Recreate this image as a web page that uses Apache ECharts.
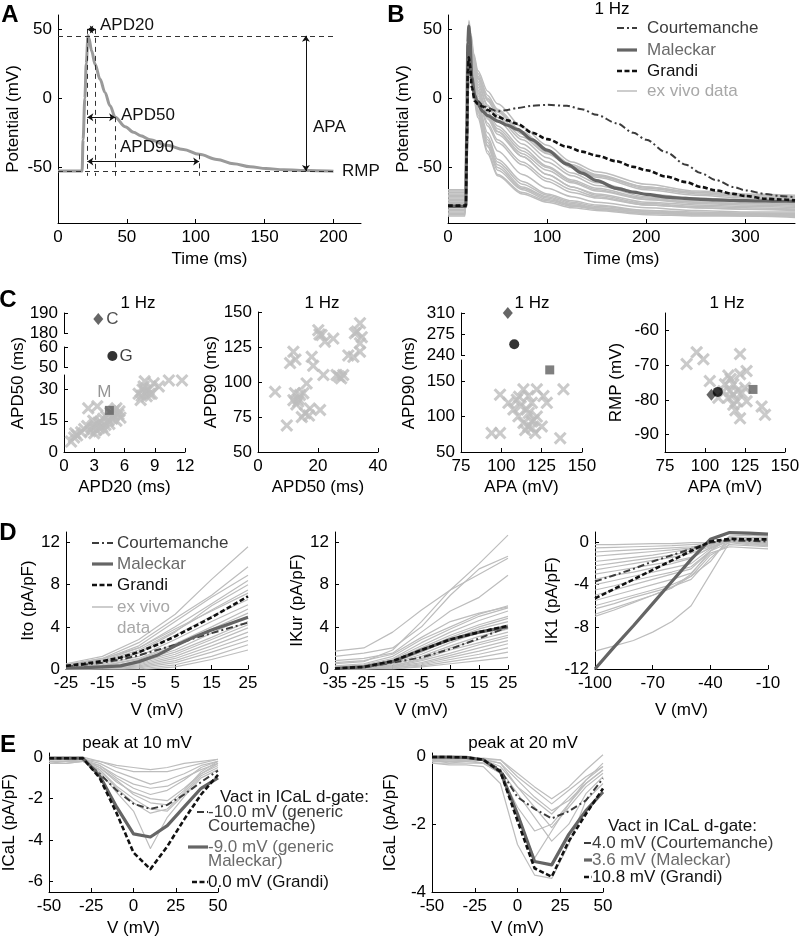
<!DOCTYPE html>
<html><head><meta charset="utf-8">
<script src="https://cdn.jsdelivr.net/npm/echarts@6/dist/echarts.min.js"></script>
<style>html,body{margin:0;padding:0;background:#fff}#c{width:799px;height:944px}</style>
</head><body><div id="c"></div>
<script>
// ---------------- DATA ----------------
// Panel A: schematic action potential
const apTime = [0,17.5,18.2,19.5,20.5,21.8,22.5,24.4,26.9,30.5,34.1,37.8,41.5,48.7,54.8,60,66.9,79,91.1,102.5,115.4,127.5,139.6,151,163.9,176,188,200];
const apVoltage = [-52.5,-52.5,-30,0,25,45.2,43,34.2,24.6,13.8,4.2,-5.4,-13.7,-20.5,-24.5,-27,-30,-34,-37,-40.5,-44.2,-47.3,-49.4,-50.7,-51.6,-52.1,-52.3,-52.6];
const apPeak = 45, apRmp = -52.5;
const apdStart = 21.3, apd20End = 27.4, apd50End = 41.5, apd90End = 102.5;
const apd20Level = 49.5, apd50Level = -13.7, apd90Level = -45.6, apd90Top = -40.5;
const apaTime = 180;

// Panel B: 1 Hz action potentials
const modelNames = ['Courtemanche','Maleckar','Grandi','ex vivo data'];
const tModelB = [0,18,19,20,21,22,24,27,30,35,40,50,60,70,85,100,120,135,150,170,187,200,220,240,255,270,288,300,320,335,350];
const courtB = [-77.5,-77.5,-40,0,20,24,12,1,-2,-5,-7,-9.5,-8.5,-7,-5.5,-4.8,-5.5,-8,-12,-18,-25,-30,-39,-48,-54,-59,-64,-66.5,-69,-70.5,-71.5];
const malB = [-78,-78,-20,40,52,45,15,2,-4,-9.5,-12.5,-16.5,-19.5,-22.5,-30,-37.5,-47.5,-54,-59.5,-65,-67.7,-69.3,-71.3,-72.3,-73,-73.3,-73.7,-73.9,-74.1,-74.3,-74.4];
const grandiB = [-77.5,-77.5,-30,20,29.5,25,8,-2,-4,-6,-8.5,-13.5,-16,-18.5,-25,-29.5,-35,-38.5,-41.5,-45.5,-49.5,-52,-56.5,-60.5,-64,-66.5,-69,-70.5,-72.5,-73,-73.7];
const tExVivoB = [0,17,19,21,23,26,30,40,50,75,100,125,150,200,250,300,350];
const exVivoB = [
 [-66,-66,-10,56,47,32,20,5,-4,-21,-34,-46,-53,-62,-67,-69,-70],
 [-68,-68,-18,50,42,28,16,0,-9,-25,-38,-49,-56,-65,-69,-71,-72],
 [-70,-70,-24,45,38,24,12,-5,-14,-30,-43,-54,-61,-69,-72,-74,-74],
 [-72,-72,-30,52,40,22,8,-10,-20,-36,-49,-59,-65,-72,-75,-76,-77],
 [-74,-74,-35,40,32,18,4,-15,-26,-42,-55,-64,-69,-75,-77,-78,-79],
 [-75,-75,-38,48,36,16,0,-20,-32,-48,-60,-68,-72,-77,-79,-80,-80],
 [-76,-76,-35,35,25,12,-3,-25,-38,-55,-65,-71,-75,-79,-81,-82,-82],
 [-78,-78,-45,42,28,10,-5,-28,-44,-60,-69,-74,-77,-81,-82,-83,-83],
 [-80,-80,-50,30,20,6,-8,-32,-48,-64,-71,-76,-79,-82,-83,-84,-84],
 [-82,-82,-55,38,22,4,-10,-35,-52,-66,-73,-77,-80,-83,-84,-84,-85],
 [-84,-84,-58,32,16,2,-12,-38,-55,-68,-74,-78,-80,-83,-84,-85,-85],
 [-73,-73,-28,55,45,30,18,2,-8,-24,-37,-48,-55,-64,-68,-70,-71],
 [-77,-77,-40,45,35,20,6,-12,-22,-38,-50,-60,-66,-73,-76,-77,-78],
 [-79,-79,-48,50,36,18,2,-18,-30,-46,-58,-66,-71,-77,-79,-80,-81],
 [-71,-71,-28,38,30,16,4,-14,-24,-40,-52,-61,-67,-73,-75,-76,-77],
 [-85,-85,-60,28,14,0,-14,-40,-56,-69,-75,-79,-81,-84,-85,-85,-86],
 [-67,-67,-16,47,40,26,14,-2,-12,-28,-40,-50,-56,-64,-68,-70,-71],
 [-76,-76,-38,44,34,20,6,-12,-24,-42,-55,-64,-70,-76,-78,-79,-80],
 [-81,-81,-52,36,24,8,-6,-30,-46,-62,-70,-75,-78,-81,-83,-83,-84],
 [-74,-74,-32,50,40,24,10,-6,-16,-33,-46,-56,-63,-71,-74,-75,-76],
 [-69,-69,-22,53,44,28,15,-1,-10,-26,-39,-50,-57,-66,-70,-72,-73],
 [-83,-83,-56,34,20,5,-9,-34,-50,-65,-72,-77,-79,-82,-84,-84,-85]
];

// Panel C: biomarkers (order of models: Courtemanche, Maleckar, Grandi)
const modelAPD20 = [3.4, 4.5, 4.8];
const modelAPD50 = [187, 20, 55.5];
const modelAPA = [104, 130, 108];
const modelAPD90 = [310, 166, 258];
const modelRMP = [-78.5, -77, -77.7];
const c1APD20 = [0.7,1.0,1.3,1.1,1.7,2.0,2.3,2.4,2.6,2.8,3.0,3.0,3.2,3.4,3.5,3.6,3.8,3.9,4.0,4.1,4.2,4.4,4.5,4.6,4.8,4.9,5.0,5.2,5.2,5.4,5.5,5.6,3.3,2.9,7.4,7.6,7.8,7.9,8.0,8.2,8.4,8.5,8.7,8.9,9.4,10.4,11.7,8.1,7.7];
const c1APD50 = [5,7,8,9,9.5,11,12.5,21,10,12,9,13,10.6,14,11.5,14.6,12,16,10.5,13,17,15,13.5,19,16,17.7,20,15,21,18,19.6,16.5,22,15,28,25,30,31.5,34,26.8,30,28,28,33,31.5,34.4,34.4,29,27];
const c2APD50 = [5.7,9.6,11.8,10.7,12.3,11.8,13.4,15.1,16.2,17.9,18.4,15.7,17.3,20.7,20.1,21.2,21.8,22.3,25.1,26.2,28.4,27.7,30.1,32.3,34,34,34,31.8,34.6,14.6,14,12.8,13.5,17,12.5,27,33,20.5];
const c2APD90 = [93,69,121.6,113.5,92,87,86,92,99,118,111.6,77.6,81,80,137,133.6,105,128.8,131,105,105,102.6,119,134.8,142,127.6,121.6,118,132,75,90.7,84,88,76,116,104,136,134];
const c3APA = [94,99.2,99.2,104.4,107.5,109.6,110.6,113.7,115.8,116.8,116.8,118.9,121,122,125.1,126.1,128.2,136.5,138.5,113.7,118.9,122,114.8,112,117,120,119,111];
const c3APD90 = [76.7,76.7,131,119.5,110,124,100.4,138.6,110,129,86,93,76.7,100,86,129,119.5,69.5,138.6,91,119.5,138.6,81,115,105,95,84,128];
const c4APA = [88.5,94.8,99,103,108.3,114.6,117.7,115.6,121.9,121.9,126,125,114.6,117.7,121.9,120,126,135.4,137.5,111.4,112.5,117.7,120,116,119,123];
const c4RMP = [-69.7,-66.3,-68.3,-74.6,-79.4,-73,-75.5,-77.5,-72.6,-66.8,-71.7,-76.5,-79.4,-81.4,-85.3,-80.4,-80.4,-81.9,-84.3,-77.5,-75.5,-78.5,-77.5,-74,-83,-78];

// Panel D: I-V curves
const vItoModel = [-25,-20,-15,-10,-5,0,5,10,15,20,25];
const itoCourt = [0.2,0.4,0.6,0.9,1.3,1.8,2.3,2.9,3.4,3.9,4.4];
const itoMal = [0.1,0.13,0.2,0.3,0.7,1.3,2.2,3.0,3.7,4.3,4.9];
const itoGrandi = [0.3,0.5,0.75,1.1,1.6,2.3,3.1,4.0,4.9,5.9,6.9];
const vItoExp = [-25,-15,-5,5,15,25];
const itoExVivo = [
 [0.5,1.2,2.8,5.2,8.5,11.6],[0.4,1.0,2.5,4.8,7.0,9.7],[0.3,0.9,2.2,4.5,6.8,8.9],[0.3,0.8,2.0,4.0,6.2,8.4],
 [0.2,0.7,1.8,3.6,5.6,7.5],[0.4,1.0,2.0,3.8,5.5,7.2],[0.2,0.5,1.5,3.2,5.0,6.6],[0.1,0.4,1.2,2.8,4.5,6.1],
 [0.1,0.3,1.0,2.4,4.0,5.7],[0.1,0.3,0.9,2.2,3.8,5.3],[0.0,0.2,0.7,1.8,3.4,5.0],[0.0,0.2,0.6,1.6,3.0,4.5],
 [0.0,0.1,0.5,1.4,2.8,4.2],[0.0,0.1,0.4,1.2,2.5,3.9],[0.0,0.0,0.3,1.0,2.2,3.5],[0.0,0.0,0.2,0.8,1.9,3.1],
 [0.0,-0.1,0.1,0.6,1.6,2.7],[0.0,-0.1,0.0,0.4,1.2,2.3],[0.0,-0.2,-0.1,0.2,0.9,1.8],[0.1,0.6,1.6,3.5,6.0,8.0]
];
const vKur = [-35,-25,-15,-5,5,15,25];
const kurCourt = [0.05,0.15,0.6,1.1,1.9,2.9,4.0];
const kurMal = [0.05,0.2,0.7,1.8,2.8,3.5,4.0];
const kurGrandi = [0.05,0.2,0.75,1.8,2.8,3.5,4.1];
const kurExVivo = [
 [1.7,2.0,3.5,5.6,7.5,10.0,12.7],[1.2,1.5,2.0,4.0,7.0,9.5,10.7],[0.5,0.7,1.8,4.5,7.5,9.0,10.5],[0.8,1.0,1.5,3.5,5.5,6.8,8.9],
 [0.3,0.5,1.2,2.8,4.0,5.2,6.0],[0.2,0.4,1.0,2.5,3.8,5.0,5.8],[0.2,0.3,0.9,2.2,3.5,4.6,5.5],[0.1,0.3,0.8,2.0,3.2,4.2,5.0],
 [0.1,0.2,0.7,1.8,3.0,4.0,4.8],[0.1,0.2,0.6,1.6,2.8,3.8,4.5],[0.0,0.2,0.5,1.4,2.5,3.5,4.2],[0.0,0.1,0.4,1.2,2.2,3.1,3.8],
 [0.0,0.1,0.3,1.0,2.0,2.8,3.5],[0.0,0.1,0.3,0.9,1.8,2.5,3.2],[0.0,0.0,0.2,0.8,1.5,2.3,3.0],[0.0,0.0,0.2,0.6,1.3,2.0,2.7],
 [0.0,0.0,0.1,0.5,1.1,1.7,2.4],[0.0,0.0,0.1,0.4,0.9,1.4,2.0],[0.0,0.0,0.0,0.3,0.7,1.1,1.6],[0.0,0.0,0.0,0.2,0.5,0.8,1.1],
 [0.6,0.8,1.4,3.0,4.5,5.3,5.9]
];
const vK1 = [-100,-90,-80,-70,-60,-50,-40,-30,-20,-10];
const k1Court = [-3.7,-3.1,-2.5,-1.8,-1.2,-0.6,0.0,0.2,0.15,0.1];
const k1Mal = [-12,-9.9,-7.9,-5.8,-3.7,-1.6,0.3,0.95,0.9,0.8];
const k1Grandi = [-5.3,-4.4,-3.5,-2.6,-1.7,-0.8,0.1,0.35,0.3,0.3];
const k1ExVivo = [
 [-0.2,-0.2,-0.15,-0.1,-0.1,0,0,0.3,0.2,0.1],[-0.5,-0.45,-0.4,-0.35,-0.3,-0.2,-0.1,0.2,0.1,0],
 [-0.9,-0.8,-0.7,-0.6,-0.5,-0.4,-0.2,0.3,0.2,0.1],[-1.3,-1.15,-1.0,-0.85,-0.7,-0.5,-0.2,0.4,0.3,0.2],
 [-1.8,-1.6,-1.4,-1.2,-0.9,-0.6,-0.3,0.3,0.2,0.1],[-2.2,-1.95,-1.7,-1.45,-1.2,-0.8,-0.3,0.5,0.4,0.3],
 [-2.6,-2.3,-2.0,-1.7,-1.4,-1.0,-0.4,0.2,0.0,-0.2],[-3.0,-2.7,-2.4,-2.1,-1.8,-1.4,-0.5,0.1,-0.1,-0.3],
 [-3.5,-3.1,-2.8,-2.4,-2.0,-1.5,-0.5,0.3,0.2,0.1],[-4.0,-3.6,-3.2,-2.8,-2.4,-2.0,-0.6,0.2,0.1,0],
 [-4.5,-4.1,-3.6,-3.2,-2.8,-2.3,-0.8,0,-0.2,-0.3],[-5.0,-4.5,-4.0,-3.5,-3.0,-2.5,-0.8,0.4,0.5,0.5],
 [-5.5,-5.0,-4.5,-4.0,-3.5,-2.9,-1.0,-0.4,-0.5,-0.6],[-6.0,-5.5,-5.0,-4.5,-4.0,-3.2,-1.2,-0.2,-0.3,-0.4],
 [-6.3,-5.8,-5.2,-4.7,-4.2,-3.5,-1.5,0.1,0.0,-0.1],[-6.8,-6.2,-5.6,-5.0,-4.3,-3.2,-1.8,0.5,0.5,0.4],
 [-7.0,-6.4,-5.7,-5.0,-4.3,-3.0,-0.8,0.6,0.7,0.6],[-10.3,-9.8,-9.3,-8.5,-7.5,-6.0,-3.0,0,0.2,0.2]
];

// Panel E: ICaL I-V curves
const vCaL = [-50,-40,-30,-20,-10,0,10,20,30,40,50];
const calCourt1 = [-0.05,-0.05,-0.1,-0.8,-1.6,-2.25,-2.5,-2.3,-1.8,-1.2,-0.65];
const calMal1 = [-0.05,-0.05,-0.05,-0.9,-2.4,-3.7,-3.85,-3.3,-2.4,-1.5,-1.0];
const calGrandi1 = [-0.05,-0.05,-0.05,-1.0,-2.7,-4.6,-5.4,-4.3,-3.0,-1.8,-0.85];
const calExVivo1 = [
 [-0.1,-0.1,-0.1,-0.2,-0.5,-0.7,-0.7,-0.7,-0.5,-0.3,-0.1],[-0.2,-0.2,-0.1,-0.3,-0.7,-1.0,-1.3,-1.1,-0.8,-0.4,-0.2],
 [-0.2,-0.2,-0.2,-0.4,-0.9,-1.3,-1.5,-1.4,-1.0,-0.6,-0.3],[-0.3,-0.2,-0.1,-0.4,-1.0,-1.5,-1.8,-1.6,-1.1,-0.5,-0.2],
 [-0.2,-0.2,-0.1,-0.5,-1.2,-1.7,-2.0,-2.1,-1.5,-0.8,-0.4],[-0.3,-0.3,-0.2,-0.6,-1.4,-2.0,-2.5,-2.6,-1.8,-0.9,-0.5],
 [-0.2,-0.2,-0.2,-0.6,-1.5,-2.2,-2.7,-2.5,-1.7,-0.8,-0.3],[-0.1,-0.1,-0.1,-0.7,-1.7,-2.6,-4.4,-2.9,-1.9,-1.0,-0.6],
 [-0.3,-0.3,-0.2,-0.5,-1.1,-1.8,-2.2,-2.3,-1.6,-0.7,-0.2],[-0.1,-0.1,0,-0.2,-0.4,-0.5,-0.6,-0.5,-0.3,-0.2,-0.1]
];
const calCourt2 = [-0.02,-0.02,-0.03,-0.1,-0.4,-1.2,-1.55,-1.83,-1.62,-1.3,-0.65];
const calMal2 = [-0.02,-0.02,-0.03,-0.1,-0.45,-1.7,-3.1,-3.2,-2.3,-1.6,-1.05];
const calGrandi2 = [-0.02,-0.02,-0.03,-0.1,-0.45,-1.9,-3.3,-3.55,-2.5,-1.7,-0.95];
const calExVivo2 = [
 [-0.05,-0.05,-0.05,-0.1,-0.1,-0.5,-0.9,-1.25,-0.9,-0.4,0.05],[-0.1,-0.1,-0.1,-0.05,-0.1,-0.6,-1.0,-1.4,-1.0,-0.6,-0.3],
 [-0.15,-0.15,-0.1,-0.1,-0.2,-0.7,-1.2,-1.6,-1.3,-0.8,-0.4],[-0.1,-0.2,-0.15,-0.1,-0.3,-0.9,-1.5,-2.1,-1.5,-0.9,-0.5],
 [-0.2,-0.2,-0.2,-0.2,-0.4,-1.1,-1.8,-2.5,-2.0,-1.1,-0.6],[-0.1,-0.15,-0.15,-0.2,-0.5,-1.8,-3.0,-2.2,-1.4,-0.8,-0.4],
 [-0.2,-0.25,-0.25,-0.3,-0.8,-2.6,-3.5,-3.6,-2.6,-1.3,-0.8],[-0.1,-0.1,-0.1,-0.2,-0.5,-1.5,-2.2,-2.0,-1.4,-0.7,-0.3],
 [-0.1,-0.1,-0.1,-0.1,-0.2,-0.9,-1.3,-1.7,-1.2,-0.7,-0.2]
];
const vactLegend1 = [['-10.0 mV (generic','Courtemache)'],['-9.0 mV (generic','Maleckar)'],['0.0 mV (Grandi)']];
const vactLegend2 = [['4.0 mV (Courtemanche)'],['3.6 mV (Maleckar)'],['10.8 mV (Grandi)']];

// ---------------- STYLE / LAYOUT ----------------
const FONT = '"Liberation Sans", Arial, Helvetica, sans-serif';
const FS = 17;
const GRAY = '#bdbdbd', COURT = '#3c3c3c', MAL = '#656565', GRANDI = '#111111';
const DASH_COURT = [7,3,2,3], DASH_GRANDI = [5,2.5];
const modelStyle = [
  {color: COURT, width: 2, type: DASH_COURT, text: '#3c3c3c'},
  {color: MAL, width: 3.2, type: 'solid', text: '#6a6a6a'},
  {color: GRANDI, width: 2.6, type: DASH_GRANDI, text: '#111111'},
  {color: GRAY, width: 1.5, type: 'solid', text: '#a8a8a8'}
];

const grids = [
 {left:58, top:15, width:303, height:208},
 {left:448, top:15, width:347, height:208},
 {left:64, top:375, width:121, height:77},
 {left:64, top:347, width:121, height:20},
 {left:64, top:313, width:121, height:20},
 {left:258, top:312, width:120, height:140},
 {left:461, top:360, width:121, height:92},
 {left:461, top:313, width:121, height:42},
 {left:665, top:313, width:120, height:139},
 {left:66, top:532, width:182, height:137},
 {left:335, top:532, width:173, height:137},
 {left:595, top:532, width:173, height:137},
 {left:49, top:753, width:169, height:139},
 {left:432, top:753, width:171, height:139}
].map(g => Object.assign({containLabel:false, outerBoundsMode:'none', show:false}, g));

function axis(gi, min, max, ticks, extra) {
  return Object.assign({
    type:'value', gridIndex:gi, min, max,
    axisLine:{show:true, onZero:false, lineStyle:{color:'#000', width:1}},
    axisTick:{show:true, inside:true, length:4, customValues:ticks, lineStyle:{color:'#000', width:1}},
    axisLabel:{show:true, customValues:ticks, color:'#000', fontSize:FS, fontFamily:FONT, margin:6, hideOverlap:false},
    splitLine:{show:false},
    minorTick:{show:false},
    nameLocation:'middle',
    nameTextStyle:{color:'#000', fontSize:FS, fontFamily:FONT}
  }, extra || {});
}
const xAxes = [
 axis(0, 0, 220, [0,50,100,150,200], {name:'Time (ms)', nameGap:28}),
 axis(1, 0, 350, [0,100,200,300], {name:'Time (ms)', nameGap:28}),
 axis(2, 0, 12, [0,3,6,9,12], {name:'APD20 (ms)', nameGap:27}),
 axis(3, 0, 12, [], {show:false}),
 axis(4, 0, 12, [], {show:false}),
 axis(5, 0, 40, [0,20,40], {name:'APD50 (ms)', nameGap:27}),
 axis(6, 75, 150, [75,100,125,150], {name:'APA (mV)', nameGap:27}),
 axis(7, 75, 150, [], {show:false}),
 axis(8, 75, 150, [75,100,125,150], {name:'APA (mV)', nameGap:27}),
 axis(9, -25, 25, [-25,-15,-5,5,15,25], {name:'V (mV)', nameGap:33}),
 axis(10, -35, 25, [-35,-25,-15,-5,5,15,25], {name:'V (mV)', nameGap:33}),
 axis(11, -100, -10, [-100,-70,-40,-10], {name:'V (mV)', nameGap:33}),
 axis(12, -50, 50, [-50,-25,0,25,50], {name:'V (mV)', nameGap:28}),
 axis(13, -50, 50, [-50,-25,0,25,50], {name:'V (mV)', nameGap:28})
];
const yAxes = [
 axis(0, -90, 60, [-50,0,50], {name:'Potential (mV)', nameGap:36}),
 axis(1, -90, 60, [-50,0,50], {name:'Potential (mV)', nameGap:36}),
 axis(2, 0, 37, [0,15,30]),
 axis(3, 50, 60, [50,60]),
 axis(4, 180, 190, [180,190]),
 axis(5, 50, 150, [50,75,100,125,150], {name:'APD90 (ms)', nameGap:36}),
 axis(6, 50, 180, [50,100,150]),
 axis(7, 240, 310, [240,275,310]),
 axis(8, -95, -55, [-90,-80,-70,-60], {name:'RMP (mV)', nameGap:40}),
 axis(9, 0, 13, [0,4,8,12], {name:'Ito (pA/pF)', nameGap:22}),
 axis(10, 0, 13, [0,4,8,12], {name:'IKur (pA/pF)', nameGap:25}),
 axis(11, -12, 1, [-12,-8,-4,0], {name:'IK1 (pA/pF)', nameGap:25}),
 axis(12, -6.5, 0.2, [-6,-4,-2,0], {name:'ICaL (pA/pF)', nameGap:31}),
 axis(13, -4, 0.1, [-4,-2,0], {name:'ICaL (pA/pF)', nameGap:33})
];

const series = [];
function addLine(gi, xs, ys, st, z, smooth) {
  const s = {type:'line', xAxisIndex:gi, yAxisIndex:gi, data: xs.map((x,i)=>[x, ys[i]]),
    symbol:'none', showSymbol:false, silent:true, animation:false, z: z || 2, clip:true,
    lineStyle:{color:st.color, width:st.width, type:st.type, cap:'butt', join:'round'}};
  if (smooth) { s.smooth = smooth; s.smoothMonotone = 'x'; }
  series.push(s);
}
function addModels(gi, xs, arrs, smooth) {
  arrs.forEach((ys, k) => addLine(gi, xs, ys, modelStyle[k], 3 + k, smooth));
}
const exStyle = {color:GRAY, width:1.5, type:'solid'};
const exStyleThin = {color:GRAY, width:1.2, type:'solid'};

// Panel A
series.push({
  type:'line', xAxisIndex:0, yAxisIndex:0, data: apTime.map((t,i)=>[t, apVoltage[i]]),
  symbol:'none', showSymbol:false, silent:true, animation:false, z:2,
  smooth:0.35, smoothMonotone:'x',
  lineStyle:{color:'#9a9a9a', width:3},
  markLine:{
    silent:true, animation:false, symbol:'none', label:{show:false},
    lineStyle:{color:'#333', width:1, type:[5,4]},
    data:[
      [{coord:[0,apPeak]},{coord:[200,apPeak]}],
      [{coord:[0,apRmp]},{coord:[200,apRmp]}],
      [{coord:[apdStart,50]},{coord:[apdStart,apRmp-3.5]}],
      [{coord:[apd20End,50]},{coord:[apd20End,apRmp-3.5]}],
      [{coord:[apd50End,apd50Level]},{coord:[apd50End,apRmp-3.5]}],
      [{coord:[apd90End,apd90Top]},{coord:[apd90End,apRmp-3.5]}],
      [{coord:[apdStart,apd20Level],symbol:'arrow',symbolSize:6,lineStyle:{type:'solid',color:'#111'}},{coord:[apd20End,apd20Level],symbol:'arrow',symbolSize:6}],
      [{coord:[apdStart,apd50Level],symbol:'arrow',symbolSize:6,lineStyle:{type:'solid',color:'#111'}},{coord:[apd50End,apd50Level],symbol:'arrow',symbolSize:6}],
      [{coord:[apdStart,apd90Level],symbol:'arrow',symbolSize:6,lineStyle:{type:'solid',color:'#111'}},{coord:[apd90End,apd90Level],symbol:'arrow',symbolSize:6}],
      [{coord:[apaTime,apPeak],symbol:'arrow',symbolSize:6,lineStyle:{type:'solid',color:'#111'}},{coord:[apaTime,apRmp],symbol:'arrow',symbolSize:6}]
    ]
  }
});

// Panel B
exVivoB.forEach(tr => addLine(1, tExVivoB, tr, exStyle, 1, 0.3));
addModels(1, tModelB, [courtB, malB, grandiB], 0.3);

// Panel C
const CROSS = 'path://M0,2L2,0L6,4L10,0L12,2L8,6L12,10L10,12L6,8L2,12L0,10L4,6Z';
const markerSym = ['diamond','rect','circle'];
const markerSize = [[10,12], 9, 10];
const markerColor = ['#404040','#5f5f5f','#000000'];
function addCrosses(gi, xs, ys) {
  series.push({type:'scatter', xAxisIndex:gi, yAxisIndex:gi, data: xs.map((x,i)=>[x, ys[i]]),
    symbol:CROSS, symbolSize:13, itemStyle:{color:GRAY}, silent:true, animation:false, z:2});
}
function addMarker(segs, k, x, y, label) {
  const seg = segs.find(s => y >= s.min && y <= s.max);
  if (!seg) return;
  const s = {type:'scatter', xAxisIndex:seg.gi, yAxisIndex:seg.gi, data:[[x,y]],
    symbol:markerSym[k], symbolSize:markerSize[k], itemStyle:{color:markerColor[k]},
    silent:true, animation:false, z:5};
  if (label) s.label = Object.assign({show:true, formatter:modelNames[k][0], fontSize:FS, fontFamily:FONT}, label);
  series.push(s);
}
addCrosses(2, c1APD20, c1APD50);
const c1Segs = [{gi:2,min:0,max:37},{gi:3,min:50,max:60},{gi:4,min:180,max:190}];
const c1Labels = [{position:'right', distance:3, color:'#222'}, {position:'top', distance:5, offset:[-5,0], color:'#7a7a7a'}, {position:'right', distance:2, color:'#111'}];
[0,1,2].forEach(k => addMarker(c1Segs, k, modelAPD20[k], modelAPD50[k], c1Labels[k]));
addCrosses(5, c2APD50, c2APD90);
addCrosses(6, c3APA, c3APD90);
const c3Segs = [{gi:6,min:50,max:180},{gi:7,min:240,max:310}];
[0,1,2].forEach(k => addMarker(c3Segs, k, modelAPA[k], modelAPD90[k]));
addCrosses(8, c4APA, c4RMP);
[0,1,2].forEach(k => addMarker([{gi:8,min:-95,max:-55}], k, modelAPA[k], modelRMP[k]));

// Panel D
itoExVivo.forEach(tr => addLine(9, vItoExp, tr, exStyleThin, 1));
addModels(9, vItoModel, [itoCourt, itoMal, itoGrandi]);
kurExVivo.forEach(tr => addLine(10, vKur, tr, exStyleThin, 1));
addModels(10, vKur, [kurCourt, kurMal, kurGrandi]);
k1ExVivo.forEach(tr => addLine(11, vK1, tr, exStyleThin, 1));
addModels(11, vK1, [k1Court, k1Mal, k1Grandi]);

// Panel E
calExVivo1.forEach(tr => addLine(12, vCaL, tr, exStyleThin, 1));
addModels(12, vCaL, [calCourt1, calMal1, calGrandi1]);
calExVivo2.forEach(tr => addLine(13, vCaL, tr, exStyleThin, 1));
addModels(13, vCaL, [calCourt2, calMal2, calGrandi2]);

// ---------------- GRAPHIC TEXT / LEGENDS ----------------
const graphics = [];
function txt(x, y, s, o) {
  o = o || {};
  const align = o.align || 'left';
  graphics.push({type:'text', x, y, rotation:o.rotation || 0, z:50, silent:true,
    style:{text:s, fill:o.color || '#000', font:(o.weight ? o.weight + ' ' : '') + (o.size || FS) + 'px ' + FONT,
      textAlign:align, align:align, textVerticalAlign:'middle', verticalAlign:'middle'}});
}
function seg(x1, y, x2, st) {
  graphics.push({type:'line', z:50, silent:true, shape:{x1, y1:y, x2, y2:y},
    style:{stroke:st.color, lineWidth:st.width, lineDash: Array.isArray(st.type) ? st.type : null}});
}
// panel letters
[['A',10,15],['B',396,15],['C',8,300],['D',8,533],['E',8,745]].forEach(p => txt(p[1], p[2], p[0], {weight:'bold', size:24, align:'center'}));
// titles
[[612,9],[138,303],[322,303],[532,303],[727,303]].forEach(p => txt(p[0], p[1], '1 Hz', {align:'center'}));
txt(137, 743, 'peak at 10 mV', {align:'center'});
txt(523, 743, 'peak at 20 mV', {align:'center'});
// broken-axis y titles
txt(18, 383, 'APD50 (ms)', {align:'center', rotation:Math.PI/2});
txt(409, 383, 'APD90 (ms)', {align:'center', rotation:Math.PI/2});
// panel A annotations
txt(100, 25, 'APD20', {color:'#111'});
txt(121, 115, 'APD50', {color:'#111'});
txt(120, 147, 'APD90', {color:'#111'});
txt(313, 127, 'APA', {color:'#111'});
txt(342, 171, 'RMP', {color:'#111'});
// legend B
[28,50,71,91].forEach((y,k) => { seg(617, y, 637, modelStyle[k]); txt(647, y, modelNames[k], {color:modelStyle[k].text}); });
// legend D
[543,564,585,607].forEach((y,k) => {
  seg(92, y, 113, modelStyle[k]);
  const nm = k === 3 ? 'ex vivo' : modelNames[k];
  txt(117, y, nm, {color:modelStyle[k].text});
});
txt(117, 628, 'data', {color:modelStyle[3].text});
// legend E1
txt(220, 797, 'Vact in ICaL d-gate:', {color:'#111'});
[[812,197],[847,188],[882,192]].forEach((p,k) => {
  seg(p[1], p[0], 208, modelStyle[k]);
  vactLegend1[k].forEach((line,j) => txt(208, p[0] + j*14.5, line, {color:modelStyle[k].text}));
});
// legend E2
txt(608, 826, 'Vact in ICaL d-gate:', {color:'#111'});
[843,860,877].forEach((y,k) => {
  seg(584, y, 592, modelStyle[k]);
  txt(592, y, vactLegend2[k][0], {color:modelStyle[k].text});
});

const chart = echarts.init(document.getElementById('c'), null, {renderer:'canvas', width:799, height:944});
chart.setOption({
  animation:false,
  backgroundColor:'#ffffff',
  textStyle:{fontFamily:FONT, color:'#000'},
  grid:grids, xAxis:xAxes, yAxis:yAxes, series, graphic:graphics
});
</script></body></html>
